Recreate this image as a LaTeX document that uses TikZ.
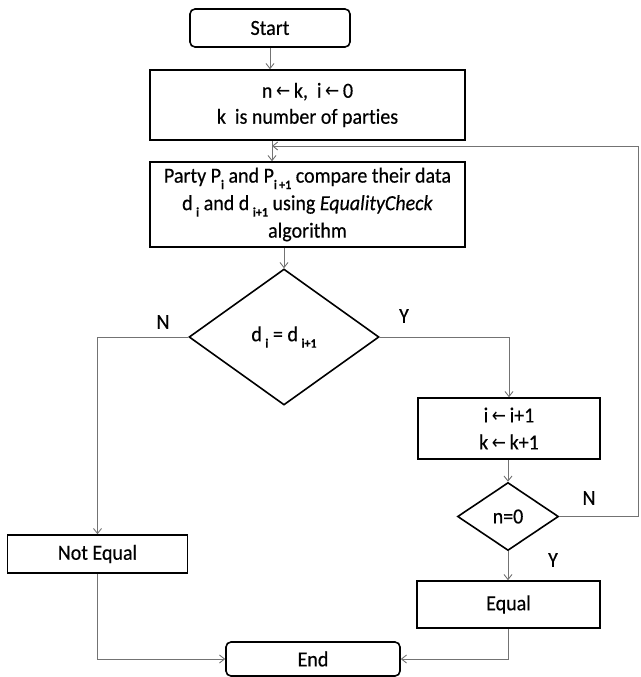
\documentclass[tikz,border=0pt]{standalone}
\usepackage{fontspec}
\setmainfont{Carlito}[FakeStretch=0.93,FakeBold=0.4,Ligatures=NoCommon]
\newfontfamily\symf{DejaVu Sans}[FakeStretch=0.85]
\usetikzlibrary{shapes.geometric,arrows.meta}
\newcommand{\sbs}[1]{\raisebox{-0.3em}{\fontsize{13}{13}\selectfont\bfseries #1}}
\newcommand{\larr}{{\symf\fontsize{20}{20}\selectfont ←}}
\begin{document}
\begin{tikzpicture}[x=1pt,y=-1pt,
  font=\fontsize{21.5}{26}\selectfont,
  boxst/.style={draw=black,line width=1.6pt,inner sep=0pt,align=center},
  roundst/.style={boxst,rounded corners=5pt},
  decst/.style={draw=black,line width=1.6pt,diamond,inner sep=0pt,align=center},
  arr/.style={draw=black!55,line width=0.9pt,-{Straight Barb[length=5pt,width=8pt]}},
  lbl/.style={inner sep=1pt}]
\useasboundingbox (0,0) rectangle (640,677);
\node[roundst,minimum width=160pt,minimum height=38pt] (start) at (270,28) {Start};
\node[boxst,minimum width=315pt,minimum height=70pt] (init) at (307.5,105)
  {n\,\larr\,k,\ \ i\,\larr\,0\\k\ \ is number of parties};
\node[boxst,minimum width=315pt,minimum height=85pt,font=\fontsize{21.5}{27.5}\selectfont] (cmp) at (307.5,204.5)
  {Party P\sbs{i} and P\sbs{i\,+1} compare their data\\
   d\,\sbs{i} and d\,\sbs{i+1} using \textit{EqualityCheck}\\algorithm};
\node[decst,minimum width=190pt,minimum height=136pt] (d1) at (284,337)
  {d\,\sbs{i} = d\,\sbs{i+1}};
\node[boxst,minimum width=180pt,minimum height=38pt] (neq) at (97.5,554) {Not Equal};
\node[boxst,minimum width=182pt,minimum height=61pt,font=\fontsize{21.5}{27}\selectfont] (inc) at (509,428.5)
  {i\,\larr\,i+1\\k\,\larr\,k+1};
\node[decst,minimum width=101pt,minimum height=68pt] (d2) at (508,516.5) {n=0};
\node[boxst,minimum width=183pt,minimum height=47pt] (eq) at (508.5,604.5) {Equal};
\node[roundst,minimum width=174pt,minimum height=34pt] (end) at (313,659) {End};
\coordinate (colA) at (272,0);
\coordinate (loopR) at (638,0);
\coordinate (loopY) at (0,146);
% connectors
\draw[arr] (start.south) -- (start.south |- init.north);
\draw[arr] (init.south -| colA) -- (cmp.north -| colA);
\draw[arr] (cmp.south -| d1.north) -- (d1.north);
\draw[arr] (d1.west) -| (neq.north);
\draw[arr] (d1.east) -| (inc.north);
\draw[arr] (inc.south -| d2.north) -- (d2.north);
\draw[arr] (d2.south) -- (d2.south |- eq.north);
\draw[arr] (d2.east) -| (loopR |- loopY) -- (colA |- loopY);
\draw[arr] (neq.south) |- (end.west);
\draw[arr] (eq.south -| d2.south) |- (end.east);
% labels
\node[lbl] (lN1) at (163,322) {N};
\node[lbl] (lY1) at (404,316) {Y};
\node[lbl] (lN2) at (589,498) {N};
\node[lbl] (lY2) at (553,560) {Y};
\end{tikzpicture}
\end{document}
